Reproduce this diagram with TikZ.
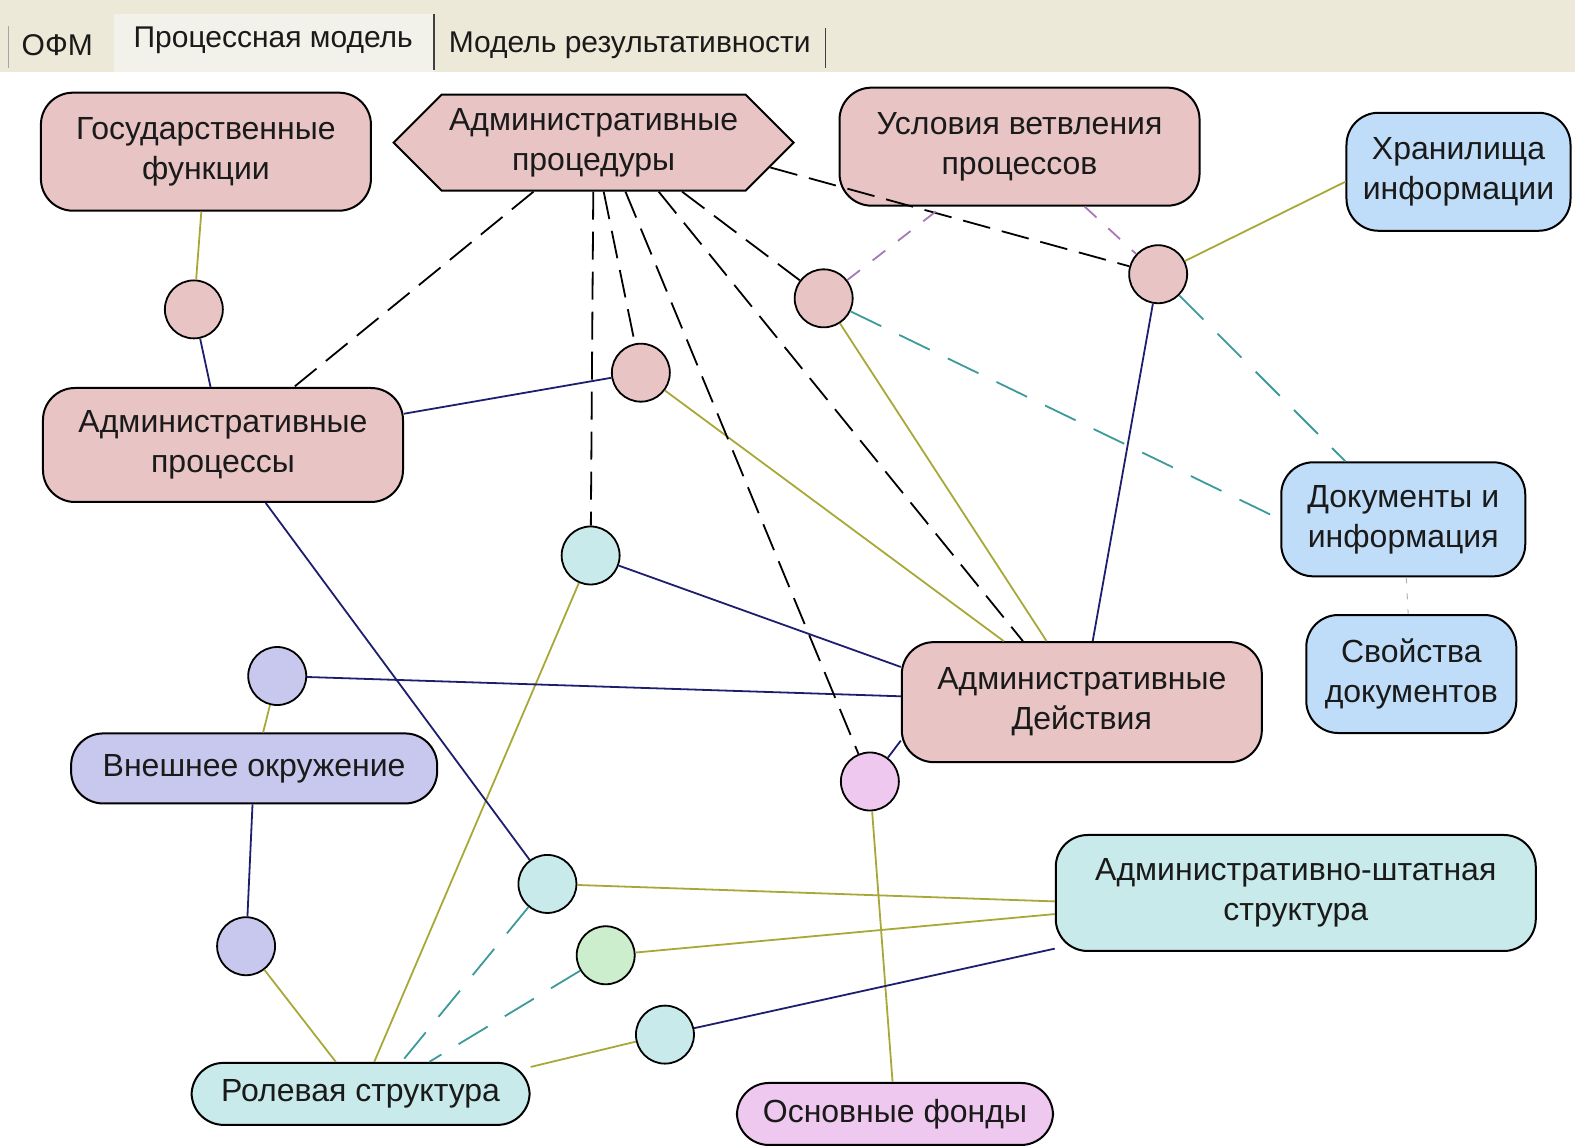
\documentclass[tikz,border=0pt]{standalone}
\usepackage{fontspec}
\setmainfont{Liberation Sans}
\usetikzlibrary{shapes.symbols}
\definecolor{procPink}{HTML}{E8C4C4}
\definecolor{infoBlue}{HTML}{BFDDF8}
\definecolor{orgCyan}{HTML}{C8EAEA}
\definecolor{envLav}{HTML}{C8C8EE}
\definecolor{fundPink}{HTML}{EEC8EE}
\definecolor{linkGreen}{HTML}{CCEECC}
\definecolor{lineOlive}{HTML}{A8A838}
\definecolor{lineNavy}{HTML}{1E1E6E}
\definecolor{lineTeal}{HTML}{3C9A9A}
\definecolor{linePurple}{HTML}{A878B8}
\definecolor{tabBg}{HTML}{ECE9D8}
\definecolor{tabSel}{HTML}{F2F1EA}
\definecolor{textDark}{HTML}{1A1A1A}

\begin{document}
\begin{tikzpicture}[
  x=0.5022pt, y=-0.5022pt,
  font=\fontsize{16}{20}\selectfont,
  entity/.style={draw=black, line width=1pt, rounded corners=16pt, inner sep=0pt,
                 align=center, text=textDark},
  hub/.style={circle, draw=black, line width=0.9pt, minimum size=29pt, inner sep=0pt},
  tabtext/.style={font=\fontsize{15}{18}\selectfont, inner sep=0pt, text=textDark},
  solidlink/.style={line width=0.9pt},
  dashlink/.style={line width=0.9pt, dash pattern=on 14pt off 6pt},
  tealink/.style={line width=0.9pt, lineTeal, dash pattern=on 17pt off 10pt},
  purplelink/.style={line width=0.9pt, linePurple, dash pattern=on 8pt off 8pt}
]
\useasboundingbox (0,0) rectangle (1568,1140);

% tab strip
\fill[tabBg] (0,0) rectangle (1568,72);
\fill[tabSel] (113,14) rectangle (432,72);
\draw[gray!70] (8,26) -- (8,68);
\draw[black!75, line width=0.8pt] (432,14) -- (432,70);
\draw[black!75, line width=0.8pt] (822,28) -- (822,68);
\node[tabtext] (tabofm)  at (57,45)  {ОФМ};
\node[tabtext] (tabproc) at (272,40) {Процессная модель};
\node[tabtext] (tabres)  at (627,45) {Модель результативности};

% entities
\node[entity, fill=procPink, minimum width=165pt, minimum height=59pt] (gosf) at (205,151) {Государственные\\функции};
\node[draw=black, line width=1pt, fill=procPink, signal, signal to=west and east,
      signal pointer angle=90, minimum width=200pt, minimum height=48pt,
      inner sep=0pt, align=center, text=textDark] (proc) at (591,142) {Административные\\процедуры};
\node[entity, fill=procPink, minimum width=180pt, minimum height=59pt] (usl) at (1015,146) {Условия ветвления\\процессов};
\node[entity, fill=infoBlue, minimum width=112pt, minimum height=59pt] (hran) at (1452,171) {Хранилища\\информации};
\node[entity, fill=procPink, minimum width=180pt, minimum height=57pt] (aproc) at (222,443) {Административные\\процессы};
\node[entity, fill=infoBlue, minimum width=122pt, minimum height=57pt] (docs) at (1397,517) {Документы и\\информация};
\node[entity, fill=infoBlue, minimum width=105pt, minimum height=59pt] (props) at (1405,671) {Свойства\\документов};
\node[entity, fill=procPink, minimum width=180pt, minimum height=60pt] (acts) at (1077,699) {Административные\\Действия};
\node[entity, fill=envLav, minimum width=183pt, minimum height=35pt] (env) at (253,765) {Внешнее окружение};
\node[entity, fill=orgCyan, minimum width=240pt, minimum height=58pt] (staff) at (1290,889) {Административно-штатная\\структура};
\node[entity, fill=orgCyan, minimum width=169pt, minimum height=31pt] (roles) at (359,1089) {Ролевая структура};
\node[entity, fill=fundPink, minimum width=158pt, minimum height=31pt] (funds) at (891,1109) {Основные фонды};

% hubs
\node[hub, fill=procPink]  (h1)  at (193,308)  {};
\node[hub, fill=procPink]  (h2)  at (638,371)  {};
\node[hub, fill=procPink]  (h3)  at (820,297)  {};
\node[hub, fill=procPink]  (h4)  at (1153,273) {};
\node[hub, fill=orgCyan]   (h5)  at (588,553)  {};
\node[hub, fill=envLav]    (h6)  at (276,673)  {};
\node[hub, fill=fundPink]  (h7)  at (866,778)  {};
\node[hub, fill=orgCyan]   (h8)  at (545,880)  {};
\node[hub, fill=linkGreen] (h9)  at (603,951)  {};
\node[hub, fill=envLav]    (h10) at (245,942)  {};
\node[hub, fill=orgCyan]   (h11) at (662,1030) {};

% olive links
\foreach \a/\b in {gosf/h1, h6/env, h10/roles, h5/roles, h7/funds}
  \draw[solidlink, lineOlive] (\a) -- (\b);
\draw[solidlink, lineOlive] (h2) -- (acts.142);
\draw[solidlink, lineOlive] (h3) -- (acts.120);
\draw[solidlink, lineOlive] (h4) -- (hran.185);
\draw[solidlink, lineOlive] (h8) -- (staff.182);
\draw[solidlink, lineOlive] (h9) -- (staff.185);
\draw[solidlink, lineOlive] (h11) -- (roles.9);

% navy links
\foreach \a/\b in {h1/aproc, h2/aproc, h4/acts, h6/acts, env/h10, aproc/h8}
  \draw[solidlink, lineNavy] (\a) -- (\b);
\draw[solidlink, lineNavy] (h5) -- (acts.169);
\draw[solidlink, lineNavy] (h7) -- (acts.192);
\draw[solidlink, lineNavy] (h11) -- (staff.193);

% dashed links from the procedures
\foreach \b in {aproc, h5, h2}
  \draw[dashlink] (proc) -- (\b);
\draw[dashlink] (proc.-57) -- (h7);
\draw[dashlink] (proc.-37) -- (acts.134);
\draw[dashlink] (proc.-29) -- (h3);
\draw[dashlink] (proc.-8) -- (h4);

% teal and purple links
\draw[tealink] (h4) -- (docs);
\draw[tealink] (h3) -- (docs.west);
\draw[tealink] (h8) -- (roles.38);
\draw[tealink] (h9) -- (roles.25);
\draw[purplelink] (h3) -- (usl);
\draw[purplelink] (usl) -- (h4);
\draw[gray!60, line width=0.5pt, dash pattern=on 3pt off 5pt] (docs) -- (props);

\end{tikzpicture}
\end{document}
